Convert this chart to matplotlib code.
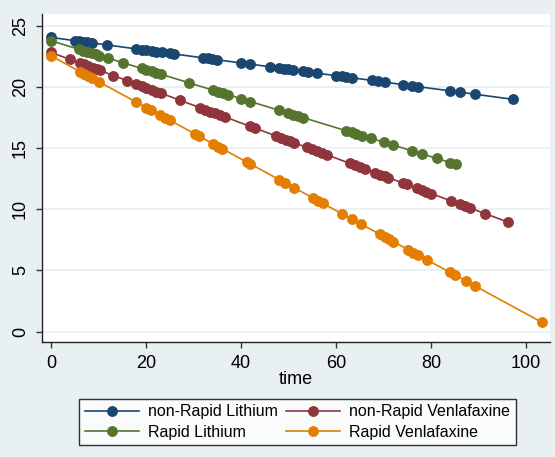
import numpy as np
import matplotlib
matplotlib.use("Agg")
import matplotlib.pyplot as plt

plt.rcParams['font.family'] = ['Liberation Sans', 'DejaVu Sans']

# values (time, predicted score)
t_nrl = [0, 5.0, 5.9, 6.8, 7.6, 8.6, 11.8, 18.0, 19.1, 20.1, 21.2, 22.2, 23.3, 25.0, 25.9,
         32.1, 33.1, 34.0, 34.9, 40.1, 42.0, 46.1, 48.1, 49.0, 50.0, 51.0, 53.1, 54.2, 56.1,
         60.1, 61.2, 62.2, 63.3, 67.5, 68.9, 70.3, 74.2, 76.1, 77.3, 84.1, 86.2, 89.3, 97.3]
y_nrl = [24.03, 23.77, 23.72, 23.68, 23.63, 23.58, 23.42, 23.09, 23.04, 22.98, 22.93, 22.88,
         22.82, 22.73, 22.68, 22.36, 22.31, 22.26, 22.21, 21.94, 21.85, 21.63, 21.53, 21.48,
         21.43, 21.38, 21.27, 21.21, 21.11, 20.90, 20.85, 20.80, 20.74, 20.52, 20.45, 20.37,
         20.17, 20.07, 20.01, 19.66, 19.55, 19.39, 18.97]

t_rl = [0, 5.9, 6.8, 7.6, 8.6, 9.4, 10.2, 12.1, 15.1, 19.1, 20.1, 21.2, 22.2, 23.1, 29.1,
        34.2, 35.2, 36.3, 37.3, 40.1, 42.0, 48.1, 50.0, 51.0, 52.1, 53.1, 62.2, 63.3, 64.3,
        65.4, 67.3, 70.1, 72.1, 76.1, 78.0, 81.2, 84.1, 85.3]
y_rl = [23.76, 23.06, 22.96, 22.86, 22.74, 22.65, 22.55, 22.33, 21.97, 21.50, 21.38, 21.25,
        21.13, 21.03, 20.32, 19.71, 19.60, 19.47, 19.35, 19.02, 18.79, 18.07, 17.85, 17.73,
        17.60, 17.48, 16.40, 16.27, 16.15, 16.02, 15.80, 15.47, 15.23, 14.76, 14.53, 14.15,
        13.81, 13.67]

t_nrv = [0, 4.0, 6.1, 6.9, 7.8, 8.8, 9.6, 10.3, 13.1, 16.1, 18.0, 19.1, 20.1, 21.2, 22.2,
         23.1, 27.1, 31.3, 32.4, 33.5, 34.5, 35.6, 36.6, 41.9, 42.9, 47.4, 48.4, 49.4, 50.4,
         51.2, 53.9, 54.9, 55.9, 57.0, 58.1, 62.9, 64.0, 65.1, 66.2, 68.2, 69.3, 70.3, 71.0,
         74.2, 74.9, 77.0, 78.0, 79.0, 80.1, 84.2, 86.2, 87.1, 88.2, 91.4, 96.3]
y_nrv = [22.81, 22.23, 21.93, 21.82, 21.69, 21.54, 21.43, 21.33, 20.92, 20.49, 20.22, 20.06,
         19.91, 19.76, 19.61, 19.48, 18.91, 18.30, 18.14, 17.98, 17.84, 17.68, 17.54, 16.77,
         16.63, 15.98, 15.84, 15.69, 15.55, 15.43, 15.04, 14.90, 14.75, 14.60, 14.44, 13.75,
         13.59, 13.43, 13.27, 12.98, 12.82, 12.68, 12.58, 12.12, 12.02, 11.71, 11.57, 11.43,
         11.27, 10.68, 10.39, 10.26, 10.10, 9.64, 8.93]

t_rv = [0, 6.2, 7.0, 7.8, 8.6, 10.2, 18.0, 20.1, 21.0, 22.9, 24.0, 25.0, 30.3, 31.2, 34.2,
        35.2, 36.1, 41.2, 42.0, 48.1, 49.3, 51.2, 55.2, 56.3, 57.2, 61.2, 63.3, 65.3, 69.2,
        70.3, 71.2, 72.1, 75.2, 76.3, 77.3, 79.2, 84.0, 85.1, 87.3, 89.3, 103.3]
y_rv = [22.53, 21.22, 21.06, 20.89, 20.72, 20.38, 18.74, 18.30, 18.11, 17.71, 17.48, 17.27,
        16.15, 15.96, 15.33, 15.12, 14.93, 13.85, 13.69, 12.40, 12.15, 11.75, 10.91, 10.67,
        10.48, 9.64, 9.20, 8.78, 7.96, 7.72, 7.53, 7.35, 6.69, 6.46, 6.25, 5.85, 4.84, 4.61,
        4.15, 3.72, 0.77]

x_ticks = [0, 20, 40, 60, 80, 100]
y_ticks = [0, 5, 10, 15, 20, 25]

series = [
    (t_nrl, y_nrl, '#1A476F', 'non-Rapid Lithium'),
    (t_rl, y_rl, '#55752F', 'Rapid Lithium'),
    (t_nrv, y_nrv, '#90353B', 'non-Rapid Venlafaxine'),
    (t_rv, y_rv, '#E37E00', 'Rapid Venlafaxine'),
]

bg = '#E8F0F2'
fig = plt.figure(figsize=(5.55, 4.57), dpi=100, facecolor=bg)
ax = fig.add_axes([0.0762, 0.251, 0.9148, 0.718])
ax.set_facecolor('white')

for t, y, c, lab in series:
    ax.plot(t, y, color=c, lw=1.2, marker='o', markersize=6.8, label=lab, zorder=3)

ax.set_xlim(-1.83, 105.05)
ax.set_ylim(-0.87, 25.93)
ax.set_xticks(x_ticks)
ax.set_yticks(y_ticks)
ax.set_yticklabels([str(v) for v in y_ticks], rotation=90, va='center')
ax.grid(True, axis='y', color='#E6EFF2', lw=1.2, zorder=0)
ax.grid(False, axis='x')

for s in ['top', 'right']:
    ax.spines[s].set_visible(False)
for s in ['left', 'bottom']:
    ax.spines[s].set_color('#222222')
    ax.spines[s].set_linewidth(1.0)
ax.tick_params(axis='both', labelsize=13, length=4.5, width=1.0, color='#333333')
ax.tick_params(axis='x', pad=5)
ax.tick_params(axis='y', pad=5)
ax.set_xlabel('time', fontsize=13, labelpad=-1)

h, l = ax.get_legend_handles_labels()
leg = fig.legend(h, l, loc='center', bbox_to_anchor=(0.536, 0.0766), ncol=2,
                 fontsize=11.5, frameon=True, fancybox=False, handlelength=3.4,
                 handletextpad=0.55, columnspacing=0.5, labelspacing=0.35,
                 borderpad=0.35, borderaxespad=0)
leg.get_frame().set_edgecolor('black')
leg.get_frame().set_linewidth(1.0)
leg.get_frame().set_facecolor('white')

plt.savefig("out.png", dpi=100, facecolor=bg)
